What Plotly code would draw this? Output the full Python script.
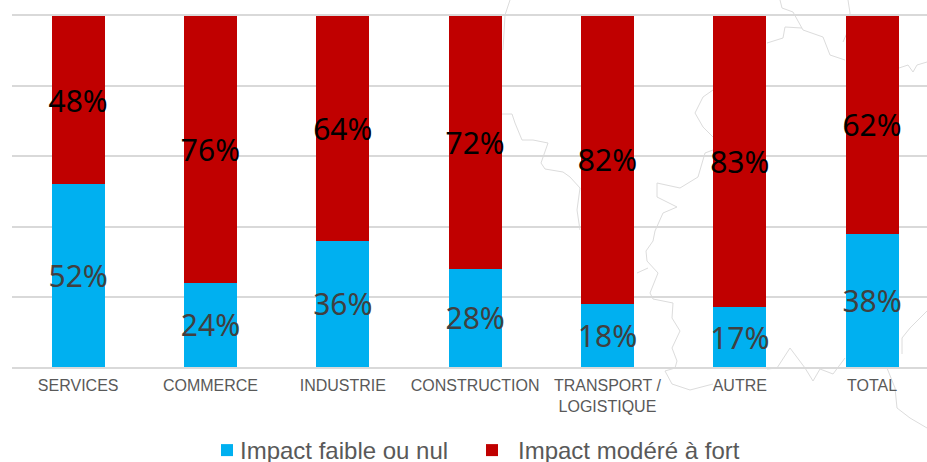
import plotly.graph_objects as go

categories = ["SERVICES", "COMMERCE", "INDUSTRIE", "CONSTRUCTION",
              "TRANSPORT /<br>LOGISTIQUE", "AUTRE", "TOTAL"]
impact_faible = [52, 24, 36, 28, 18, 17, 38]
impact_modere = [48, 76, 64, 72, 82, 83, 62]
y_ticks = [0, 20, 40, 60, 80, 100]

# Faint map outline that sits behind the chart (window pixel coordinates)
map_borders = [
    [(510, 0), (505, 15), (503, 50)],
    [(502, 114), (512, 114), (515, 123), (522, 140), (533, 140), (548, 143), (541, 163), (545, 169),
     (563, 172), (570, 177), (580, 188), (577, 210), (580, 230)],
    [(713, 90), (703, 97), (695, 113), (703, 127), (713, 137)],
    [(713, 150), (705, 153), (698, 177), (680, 188), (657, 183), (657, 197), (677, 207), (663, 213),
     (655, 231), (653, 241), (646, 251), (647, 261), (658, 273), (650, 293), (653, 299), (673, 303),
     (672, 318), (680, 331), (672, 348), (677, 361), (675, 368), (665, 371), (672, 384), (690, 390),
     (713, 384)],
    [(637, 273), (648, 268)],
    [(767, 369), (777, 368), (790, 348), (805, 368), (813, 381), (820, 369), (833, 374), (845, 358)],
    [(887, 368), (895, 388), (897, 408), (910, 418), (927, 428)],
    [(927, 311), (910, 328), (902, 338), (902, 354)],
    [(780, 0), (782, 8), (793, 12), (803, 30), (823, 37), (830, 55), (845, 60)],
    [(767, 43), (783, 38), (785, 27), (802, 28)],
    [(848, 0), (850, 13), (847, 33), (843, 42)],
    [(899, 68), (908, 65), (913, 72), (917, 65), (927, 62)],
]

BLUE = "#00B0F0"
RED = "#C00000"
W, H = 927, 462

fig = go.Figure()

for border in map_borders:
    fig.add_trace(go.Scatter(
        x=[p[0] for p in border], y=[p[1] for p in border], mode="lines",
        line=dict(color="#DCDCDC", width=1), showlegend=False, hoverinfo="skip",
        xaxis="x", yaxis="y"))

fig.add_trace(go.Bar(
    x=categories, y=impact_faible, name="Impact faible ou nul",
    marker=dict(color=BLUE, line=dict(width=0)),
    text=[f"{v}%" for v in impact_faible], textposition="inside",
    insidetextanchor="middle", textangle=0, constraintext="none",
    textfont=dict(family="Noto Sans", size=30, color="#404040"),
    xaxis="x2", yaxis="y2", legend="legend"))
fig.add_trace(go.Bar(
    x=categories, y=impact_modere, name="Impact modéré à fort",
    marker=dict(color=RED, line=dict(width=0)),
    text=[f"{v}%" for v in impact_modere], textposition="inside",
    insidetextanchor="middle", textangle=0, constraintext="none",
    textfont=dict(family="Noto Sans", size=30, color="#000000"),
    xaxis="x2", yaxis="y2", legend="legend2"))

legend_font = dict(family="Liberation Sans", size=24, color="#595959")
fig.update_layout(
    width=W, height=H, autosize=False,
    margin=dict(l=0, r=0, t=0, b=0, autoexpand=False),
    paper_bgcolor="white", plot_bgcolor="rgba(0,0,0,0)",
    barmode="stack", bargap=0.6,
    showlegend=True,
    xaxis=dict(domain=[0, 1], range=[0, W], visible=False, fixedrange=True),
    yaxis=dict(domain=[0, 1], range=[H, 0], visible=False, fixedrange=True),
    xaxis2=dict(domain=[12 / W, 1], range=[-0.5, 6.415], anchor="y2", type="category",
                showgrid=False, ticks="", ticklen=0, showline=True, mirror=True,
                linecolor="#D9D9D9", linewidth=2, ticklabelstandoff=3,
                tickfont=dict(family="Liberation Sans", size=16, color="#595959")),
    yaxis2=dict(domain=[(H - 367) / H, (H - 16) / H], range=[0, 100], anchor="x2",
                tickvals=y_ticks, showticklabels=False, ticks="",
                showgrid=True, gridcolor="#D9D9D9", gridwidth=2, zeroline=False),
    legend=dict(orientation="h", x=200 / W, xanchor="left", y=1.0 - 428 / H, yanchor="top",
                font=legend_font, bgcolor="rgba(0,0,0,0)"),
    legend2=dict(orientation="h", x=466 / W, xanchor="left", y=1.0 - 428 / H, yanchor="top",
                 font=legend_font, bgcolor="rgba(0,0,0,0)", itemwidth=42),
)

post = """
document.body.style.margin = '0';
var nudge = function () {
  var s = document.querySelector('g.legend .legendsymbols');
  if (s) { s.setAttribute('transform', 'translate(7,0)'); }
};
nudge();
setTimeout(nudge, 100);
"""
fig.write_html("out.html", config={"displayModeBar": False}, post_script=post)
